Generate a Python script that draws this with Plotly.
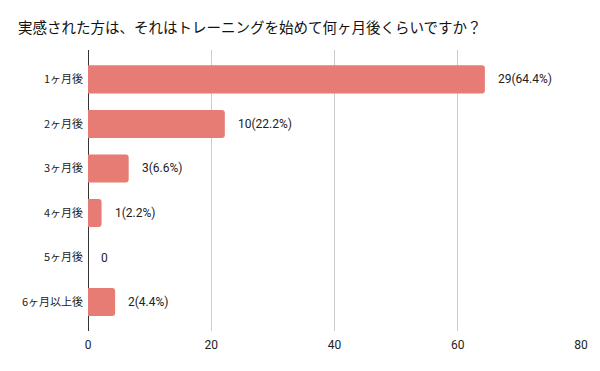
import plotly.graph_objects as go

categories = ["1ヶ月後", "2ヶ月後", "3ヶ月後", "4ヶ月後", "5ヶ月後", "6ヶ月以上後"]
counts = [29, 10, 3, 1, 0, 2]
percents = [64.4, 22.2, 6.6, 2.2, 0.0, 4.4]
labels = [f"{c}({p}%)" if c > 0 else "0" for c, p in zip(counts, percents)]
x_ticks = [0, 20, 40, 60, 80]

fig = go.Figure()
fig.add_trace(go.Bar(
    y=categories, x=percents, orientation="h",
    marker=dict(color="#e67c73", line=dict(width=0)),
    width=0.63, hoverinfo="skip",
))
for cat, p, lab in zip(categories, percents, labels):
    fig.add_annotation(x=p, y=cat, text=lab, showarrow=False, xanchor="left",
                       xshift=11, font=dict(family="Roboto, Noto Sans CJK JP", size=12, color="#222222"))

fig.update_layout(
    width=600, height=371,
    margin=dict(l=88, r=19, t=50, b=40),
    paper_bgcolor="white", plot_bgcolor="white",
    barcornerradius=3,
    showlegend=False,
    title=dict(text="実感された方は、それはトレーニングを始めて何ヶ月後くらいですか？",
               x=18/600, xanchor="left", y=1-28/371, yanchor="middle",
               font=dict(family="Noto Sans CJK JP", size=14.5, color="#111111")),
    xaxis=dict(range=[0, 80], tickvals=x_ticks, showgrid=True, gridcolor="#cccccc", gridwidth=1,
               zeroline=True, zerolinecolor="#333333", zerolinewidth=1,
               tickfont=dict(family="Roboto, Noto Sans CJK JP", size=12, color="#222222"),
               ticks="", ticklabelstandoff=5, showline=False, fixedrange=True),
    yaxis=dict(categoryorder="array", categoryarray=categories, autorange=False,
               range=[5.65, -0.66], showgrid=False, zeroline=False, ticks="",
               ticklabelstandoff=4,
               tickfont=dict(family="Noto Sans CJK JP", size=11, color="#222222"),
               fixedrange=True),
)
fig.write_html("out.html", config={"displayModeBar": False},
               post_script="document.body.style.margin='0';document.body.style.overflow='hidden';")
